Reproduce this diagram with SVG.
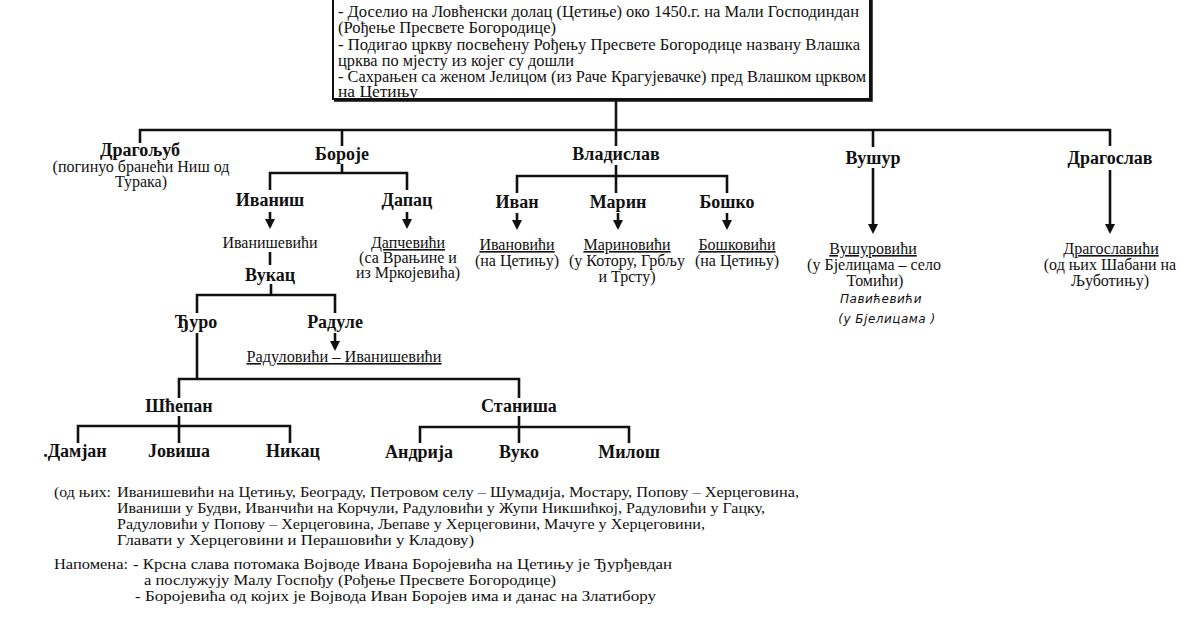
<svg xmlns="http://www.w3.org/2000/svg" width="1200" height="630" viewBox="0 0 1200 630">
<style>
text{font-family:"Liberation Serif","Tinos","DejaVu Serif","Times New Roman",serif;fill:#111}
.n{font-size:18px;font-weight:bold;text-anchor:middle}
.s{font-size:16px;text-anchor:middle}
.u{text-decoration:underline}
.b{font-size:16px}
.f{font-size:14.5px}
.h{font-family:"DejaVu Sans","Noto Sans",sans-serif;font-size:12px;font-style:italic;text-anchor:middle;letter-spacing:0.5px}
.c line,.c polyline{stroke:#111;stroke-width:2.6;fill:none}
.a{marker-end:url(#ah)}
</style>
<defs>
<marker id="ah" markerUnits="userSpaceOnUse" markerWidth="10" markerHeight="10" refX="7" refY="5" orient="auto">
<path d="M0,0 L10,5 L0,10 z" fill="#111"/>
</marker>
</defs>
<rect width="1200" height="630" fill="#fff"/>

<g id="box">
<rect x="333" y="-5" width="537" height="104" fill="none" stroke="#111" stroke-width="2"/>
<polyline points="871,0 871,100 334,100" fill="none" stroke="#111" stroke-width="3.5"/>
<text class="b" x="338" y="17" textLength="521" lengthAdjust="spacingAndGlyphs">- Доселио на Ловћенски долац (Цетиње) око 1450.г. на Мали Господиндан</text>
<text class="b" x="338" y="33" textLength="218" lengthAdjust="spacingAndGlyphs">(Рођење Пресвете Богородице)</text>
<text class="b" x="338" y="50" textLength="522" lengthAdjust="spacingAndGlyphs">- Подигао цркву посвећену Рођењу Пресвете Богородице названу Влашка</text>
<text class="b" x="338" y="66" textLength="236" lengthAdjust="spacingAndGlyphs">црква по мјесту из којег су дошли</text>
<text class="b" x="338" y="82" textLength="528" lengthAdjust="spacingAndGlyphs">- Сахрањен са женом Јелицом (из Раче Крагујевачке) пред Влашком црквом</text>
<text class="b" x="338" y="97" textLength="80" lengthAdjust="spacingAndGlyphs">на Цетињу</text>
</g>

<g id="connectors" class="c">
<line x1="616" y1="100" x2="616" y2="130"/>
<line x1="139" y1="130" x2="1111" y2="130"/>
<line x1="140" y1="129" x2="140" y2="143"/>
<line x1="342" y1="129" x2="342" y2="146"/>
<line x1="616" y1="129" x2="616" y2="146"/>
<line x1="873" y1="129" x2="873" y2="147"/>
<line x1="1110" y1="129" x2="1110" y2="146"/>
<line x1="342" y1="164" x2="342" y2="173"/>
<polyline points="270,190 270,173 407,173 407,190"/>
<line class="a" x1="270" y1="212" x2="270" y2="226"/>
<line class="a" x1="407" y1="212" x2="407" y2="226"/>
<line x1="270" y1="252" x2="270" y2="265"/>
<line x1="271" y1="284" x2="271" y2="295"/>
<polyline points="197,313 197,295 335,295 335,313"/>
<line class="a" x1="335" y1="333" x2="335" y2="348"/>
<line x1="197" y1="333" x2="197" y2="379"/>
<polyline points="179,398 179,379 519,379 519,398"/>
<polyline points="78,443 78,426 290,426 290,443"/>
<line x1="179" y1="416" x2="179" y2="443"/>
<polyline points="420,443 420,427 629,427 629,443"/>
<line x1="519" y1="416" x2="519" y2="443"/>
<line x1="616" y1="165" x2="616" y2="193"/>
<polyline points="517,193 517,176 727,176 727,193"/>
<line class="a" x1="517" y1="213" x2="517" y2="227"/>
<line class="a" x1="618" y1="213" x2="618" y2="227"/>
<line class="a" x1="727" y1="213" x2="727" y2="227"/>
<line class="a" x1="873" y1="168" x2="873" y2="231"/>
<line class="a" x1="1110" y1="170" x2="1110" y2="231"/>
</g>

<g id="dragoljub">
<text class="n" x="140" y="156">Драгољуб</text>
<text class="s" x="141" y="172">(погинуо бранећи Ниш од</text>
<text class="s" x="141" y="187">Турака)</text>
</g>
<g id="boroje"><text class="n" x="342" y="160">Бороје</text></g>
<g id="ivanis"><text class="n" x="270" y="206">Иваниш</text></g>
<g id="ivanisevici"><text class="s" x="270" y="248">Иванишевићи</text></g>
<g id="vukac"><text class="n" x="270" y="281">Вукац</text></g>
<g id="dapac"><text class="n" x="407" y="206">Дапац</text></g>
<g id="dapcevici">
<text class="s u" x="408" y="248">Дапчевићи</text>
<text class="s" x="408" y="263">(са Врањине и</text>
<text class="s" x="408" y="278">из Мркојевића)</text>
</g>
<g id="djuro"><text class="n" x="196" y="328">Ђуро</text></g>
<g id="radule"><text class="n" x="335" y="328">Радуле</text></g>
<g id="radulovici"><text class="s u" x="344" y="362" textLength="195" lengthAdjust="spacingAndGlyphs">Радуловићи – Иванишевићи</text></g>
<g id="scepan"><text class="n" x="179" y="412">Шћепан</text></g>
<g id="stanisa"><text class="n" x="519" y="412">Станиша</text></g>
<g id="damjan"><text class="n" x="75" y="457">.Дамјан</text></g>
<g id="jovisa"><text class="n" x="179" y="457">Јовиша</text></g>
<g id="nikac"><text class="n" x="293" y="457">Никац</text></g>
<g id="andrija"><text class="n" x="419" y="458">Андрија</text></g>
<g id="vuko"><text class="n" x="519" y="458">Вуко</text></g>
<g id="milos"><text class="n" x="629" y="458">Милош</text></g>

<g id="vladislav"><text class="n" x="616" y="160">Владислав</text></g>
<g id="ivan"><text class="n" x="517" y="208">Иван</text></g>
<g id="marin"><text class="n" x="618" y="208">Марин</text></g>
<g id="bosko"><text class="n" x="727" y="208">Бошко</text></g>
<g id="ivanovici">
<text class="s u" x="517" y="250">Ивановићи</text>
<text class="s" x="517" y="266">(на Цетињу)</text>
</g>
<g id="marinovici">
<text class="s u" x="627" y="250">Мариновићи</text>
<text class="s" x="627" y="266">(у Котору, Грбљу</text>
<text class="s" x="627" y="282">и Трсту)</text>
</g>
<g id="boskovici">
<text class="s u" x="737" y="250">Бошковићи</text>
<text class="s" x="737" y="266">(на Цетињу)</text>
</g>

<g id="vusur"><text class="n" x="873" y="164">Вушур</text></g>
<g id="vusurovici">
<text class="s u" x="873" y="254">Вушуровићи</text>
<text class="s" x="874" y="270">(у Бјелицама – село</text>
<text class="s" x="875" y="286">Томићи)</text>
<text class="h" x="881" y="303">Павићевићи</text>
<text class="h" x="887" y="323">(у Бјелицама )</text>
</g>
<g id="dragoslav"><text class="n" x="1110" y="164">Драгослав</text></g>
<g id="dragoslavici">
<text class="s u" x="1111" y="254">Драгославићи</text>
<text class="s" x="1110" y="270">(од њих Шабани на</text>
<text class="s" x="1110" y="286">Љуботињу)</text>
</g>

<g id="notes">
<text class="f" x="54" y="497" textLength="57" lengthAdjust="spacingAndGlyphs">(од њих:</text>
<text class="f" x="117" y="497" textLength="682" lengthAdjust="spacingAndGlyphs">Иванишевићи на Цетињу, Београду, Петровом селу – Шумадија, Мостару, Попову – Херцеговина,</text>
<text class="f" x="117" y="513" textLength="648" lengthAdjust="spacingAndGlyphs">Иваниши у Будви, Иванчићи на Корчули, Радуловићи у Жупи Никшићкој, Радуловићи у Гацку,</text>
<text class="f" x="117" y="529" textLength="588" lengthAdjust="spacingAndGlyphs">Радуловићи у Попову – Херцеговина, Љепаве у Херцеговини, Мачуге у Херцеговини,</text>
<text class="f" x="117" y="545" textLength="357" lengthAdjust="spacingAndGlyphs">Главати у Херцеговини и Перашовићи у Кладову)</text>
<text class="f" x="54" y="569" textLength="74" lengthAdjust="spacingAndGlyphs">Напомена:</text>
<text class="f" x="133" y="569" textLength="539" lengthAdjust="spacingAndGlyphs">- Крсна слава потомака Војводе Ивана Боројевића на Цетињу је Ђурђевдан</text>
<text class="f" x="144" y="585" textLength="412" lengthAdjust="spacingAndGlyphs">а послужују Малу Госпођу (Рођење Пресвете Богородице)</text>
<text class="f" x="135" y="601" textLength="521" lengthAdjust="spacingAndGlyphs">- Боројевића од којих је Војвода Иван Боројев има и  данас на Златибору</text>
</g>
</svg>
